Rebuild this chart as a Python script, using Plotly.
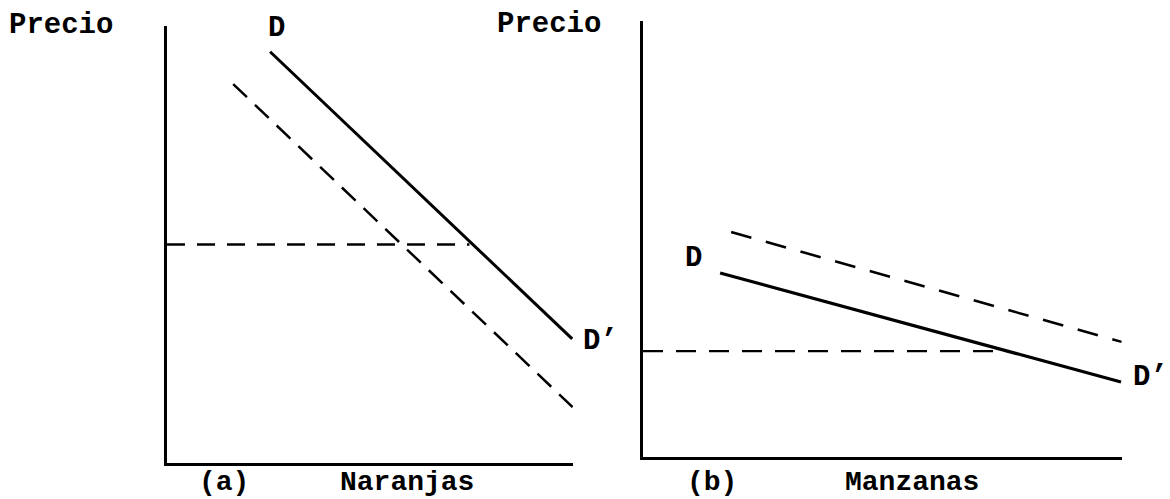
import plotly.graph_objects as go

# ---- data (quantity, price) in each panel's own units ----
# Panel (a): Naranjas
a_D_x = [2.54, 9.98]
a_D_y = [9.41, 2.84]
a_Dnew_x = [1.63, 9.99]
a_Dnew_y = [8.67, 1.28]
a_price_x = [0.0, 7.45]
a_price_y = [5.0, 5.0]

# Panel (b): Manzanas
b_D_x = [1.61, 9.98]
b_D_y = [4.22, 1.72]
b_Dnew_x = [1.84, 9.99]
b_Dnew_y = [5.16, 2.64]
b_price_x = [0.0, 7.6]
b_price_y = [2.43, 2.43]

FONT = "Liberation Mono"
TXT = dict(family=FONT, size=29, color="black", weight="bold")
TXT_B = dict(family=FONT, size=28, color="black", weight="bold")

fig = go.Figure()

def line(x, y, xa, ya, dash=None, width=3):
    fig.add_trace(go.Scatter(
        x=x, y=y, mode="lines", xaxis=xa, yaxis=ya, showlegend=False,
        hoverinfo="skip",
        line=dict(color="black", width=width, dash=dash if dash else "solid")))

line(a_D_x, a_D_y, "x", "y", width=3)
line(a_Dnew_x, a_Dnew_y, "x", "y", dash="19px,11px", width=2.5)
line(a_price_x, a_price_y, "x", "y", dash="18px,12px", width=2.3)

line(b_D_x, b_D_y, "x2", "y2", width=3.2)
line(b_Dnew_x, b_Dnew_y, "x2", "y2", dash="21px,15px", width=2.5)
line(b_price_x, b_price_y, "x2", "y2", dash="20px,13px", width=2.3)

ax_common = dict(range=[0, 10], showgrid=False, zeroline=False, showticklabels=False,
                 ticks="", showline=True, linecolor="black", linewidth=3, fixedrange=True)

W, H = 1170, 499
fig.update_layout(
    width=W, height=H,
    margin=dict(l=0, r=0, t=0, b=0),
    paper_bgcolor="white", plot_bgcolor="white",
    xaxis=dict(domain=[167 / W, 573 / W], anchor="y", **ax_common),
    yaxis=dict(domain=[(H - 463) / H, (H - 26) / H], anchor="x", **ax_common),
    xaxis2=dict(domain=[643 / W, 1122 / W], anchor="y2", **ax_common),
    yaxis2=dict(domain=[(H - 457) / H, (H - 21) / H], anchor="x2", **ax_common),
)

ann = []
# curve labels tied to line ends
ann.append(dict(x=a_D_x[0], y=a_D_y[0], xref="x", yref="y", text="D", showarrow=False,
                xanchor="center", yanchor="bottom", xshift=6, yshift=5, font=TXT))
ann.append(dict(x=a_D_x[-1], y=a_D_y[-1], xref="x", yref="y", text="D’", showarrow=False,
                xanchor="left", yanchor="middle", xshift=9, yshift=-3, font=TXT))
ann.append(dict(x=b_D_x[0], y=b_D_y[0], xref="x2", yref="y2", text="D", showarrow=False,
                xanchor="right", yanchor="middle", xshift=-16, yshift=15, font=TXT))
ann.append(dict(x=b_D_x[-1], y=b_D_y[-1], xref="x2", yref="y2", text="D’", showarrow=False,
                xanchor="left", yanchor="middle", xshift=10, yshift=5, font=TXT))

# axis titles
def ptxt(text, px, py):
    ann.append(dict(x=px / W, y=1 - py / H, xref="paper", yref="paper", text=text,
                    showarrow=False, xanchor="center", yanchor="middle", font=TXT))

ptxt("Precio", 61, 25)
ptxt("Precio", 549, 24)

# bottom labels, anchored to the bottom edge so they stay inside
def btxt(text, px):
    ann.append(dict(x=px / W, y=0, xref="paper", yref="paper", text=text,
                    showarrow=False, xanchor="center", yanchor="bottom", borderpad=0,
                    font=TXT_B))

btxt("(a)", 224)
btxt("Naranjas", 407)
btxt("(b)", 712)
btxt("Manzanas", 912)

fig.update_layout(annotations=ann)

fig.write_html("out.html", config={"displayModeBar": False},
               post_script="document.body.style.margin='0px';document.body.style.overflow='hidden';")
